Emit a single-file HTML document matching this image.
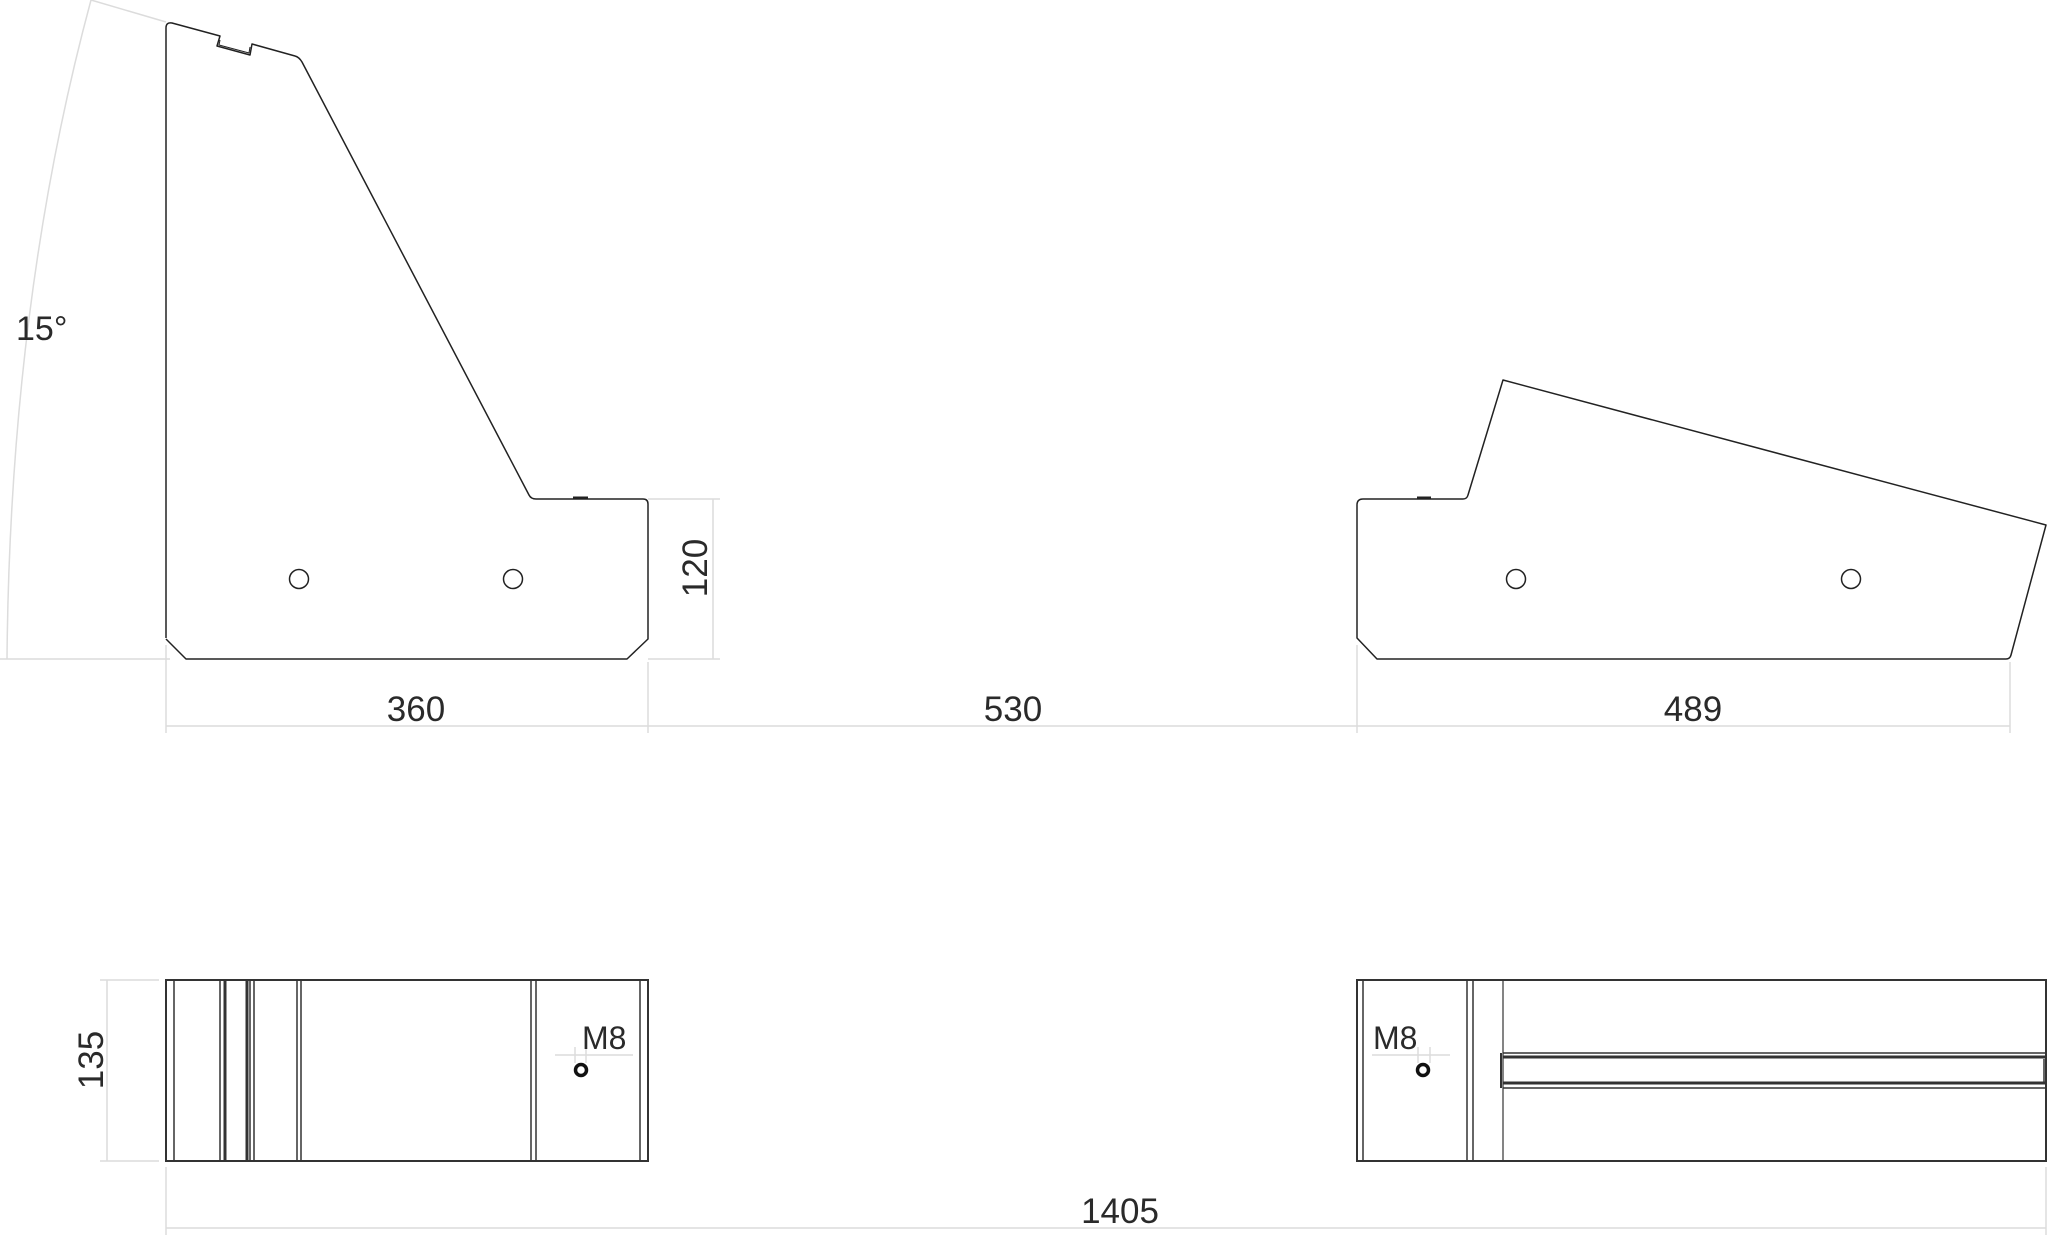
<!DOCTYPE html>
<html><head><meta charset="utf-8"><style>
html,body{margin:0;padding:0;background:#fff;}
svg{display:block;}
text{font-family:"Liberation Sans",sans-serif;fill:#2a2a2a;}
</style></head><body>
<svg width="2048" height="1235" viewBox="0 0 2048 1235" xmlns="http://www.w3.org/2000/svg">
<!-- dimension / construction lines -->
<g stroke="#dcdcdc" stroke-width="1.5" fill="none">
  <path d="M91,0 Q10,300 7,659"/>
  <line x1="91" y1="0" x2="166" y2="22"/>
  <line x1="0" y1="659" x2="170" y2="659"/>
  <line x1="648" y1="499" x2="720" y2="499"/>
  <line x1="648" y1="659" x2="720" y2="659"/>
  <line x1="713" y1="499" x2="713" y2="659"/>
  <line x1="166" y1="726" x2="2010" y2="726"/>
  <line x1="166" y1="645" x2="166" y2="733"/>
  <line x1="648" y1="662" x2="648" y2="733"/>
  <line x1="1357" y1="645" x2="1357" y2="733"/>
  <line x1="2010" y1="662" x2="2010" y2="733"/>
  <line x1="100" y1="980" x2="159" y2="980"/>
  <line x1="100" y1="1161" x2="159" y2="1161"/>
  <line x1="107" y1="980" x2="107" y2="1161"/>
  <line x1="166" y1="1167" x2="166" y2="1235"/>
  <line x1="2046" y1="1167" x2="2046" y2="1235"/>
  <line x1="166" y1="1228" x2="2046" y2="1228"/>
  <line x1="555" y1="1055" x2="633" y2="1055"/>
  <line x1="575" y1="1047" x2="575" y2="1063"/>
  <line x1="586" y1="1047" x2="586" y2="1063"/>
  <line x1="1372" y1="1055" x2="1450" y2="1055"/>
  <line x1="1418" y1="1047" x2="1418" y2="1063"/>
  <line x1="1430" y1="1047" x2="1430" y2="1063"/>
</g>
<!-- left side view -->
<g stroke="#222" stroke-width="1.5" fill="none" stroke-linejoin="round">
  <path d="M166,638 L166,28 Q166,22 172,23 L220,36 L217,46 L250,55 L252,44 L295,56 Q299,57 302,62 L529,495 Q531,499 536,499 L643,499 Q648,499 648,504 L648,639 L627,659 L186,659 L166,639"/>
  <path d="M220,40 L219,45 L249,53 L250,47" stroke-width="1"/>
  <circle cx="299" cy="579" r="9.5"/>
  <circle cx="513" cy="579" r="9.5"/>
  <line x1="573" y1="498" x2="588" y2="498" stroke-width="3"/>
</g>
<!-- right side view -->
<g stroke="#222" stroke-width="1.5" fill="none" stroke-linejoin="round">
  <path d="M1357,638 L1357,505 Q1357,499 1363,499 L1463,499 Q1467,499 1468,495 L1503,380 L2046,525 L2011,655 Q2010,659 2006,659 L1377,659 L1357,638 Z"/>
  <circle cx="1516" cy="579" r="9.5"/>
  <circle cx="1851" cy="579" r="9.5"/>
  <line x1="1417" y1="498" x2="1431" y2="498" stroke-width="3"/>
</g>
<!-- left bottom view -->
<g stroke="#333" stroke-width="1.5" fill="none">
  <rect x="166" y="980" width="482" height="181" stroke-width="2"/>
  <line x1="174" y1="980" x2="174" y2="1161"/>
  <line x1="220" y1="980" x2="220" y2="1161"/>
  <line x1="225" y1="980" x2="225" y2="1161" stroke-width="3"/>
  <line x1="247" y1="980" x2="247" y2="1161" stroke-width="3"/>
  <line x1="250" y1="980" x2="250" y2="1161"/>
  <line x1="254" y1="980" x2="254" y2="1161"/>
  <line x1="297" y1="980" x2="297" y2="1161"/>
  <line x1="301" y1="980" x2="301" y2="1161"/>
  <line x1="531" y1="980" x2="531" y2="1161"/>
  <line x1="536" y1="980" x2="536" y2="1161"/>
  <line x1="640" y1="980" x2="640" y2="1161"/>
  <circle cx="581" cy="1070" r="5.5" stroke="#111" stroke-width="3.5"/>
</g>
<!-- right bottom view -->
<g stroke="#333" stroke-width="1.5" fill="none">
  <rect x="1357" y="980" width="689" height="181" stroke-width="2"/>
  <line x1="1363" y1="980" x2="1363" y2="1161"/>
  <line x1="1467" y1="980" x2="1467" y2="1161"/>
  <line x1="1473" y1="980" x2="1473" y2="1161"/>
  <line x1="1503" y1="980" x2="1503" y2="1161" stroke-width="1.2"/>
  <line x1="1503" y1="1053" x2="2046" y2="1053"/>
  <line x1="1503" y1="1057" x2="2046" y2="1057" stroke-width="3"/>
  <line x1="1503" y1="1083" x2="2046" y2="1083" stroke-width="3"/>
  <line x1="1503" y1="1088" x2="2046" y2="1088"/>
  <line x1="1501" y1="1053" x2="1501" y2="1088" stroke-width="2"/>
  <line x1="2044" y1="1059" x2="2044" y2="1082"/>
  <circle cx="1423" cy="1070" r="5.5" stroke="#111" stroke-width="3.5"/>
</g>
<!-- labels -->
<g font-size="35">
  <text x="16" y="340" font-size="34">15°</text>
  <text x="416" y="721" text-anchor="middle">360</text>
  <text x="1013" y="721" text-anchor="middle">530</text>
  <text x="1693" y="721" text-anchor="middle">489</text>
  <text x="1120" y="1223" text-anchor="middle">1405</text>
  <text transform="translate(707,568) rotate(-90)" text-anchor="middle">120</text>
  <text transform="translate(103,1060) rotate(-90)" text-anchor="middle">135</text>
  <text x="582" y="1049" font-size="32">M8</text>
  <text x="1373" y="1049" font-size="32">M8</text>
</g>
</svg>
</body></html>
